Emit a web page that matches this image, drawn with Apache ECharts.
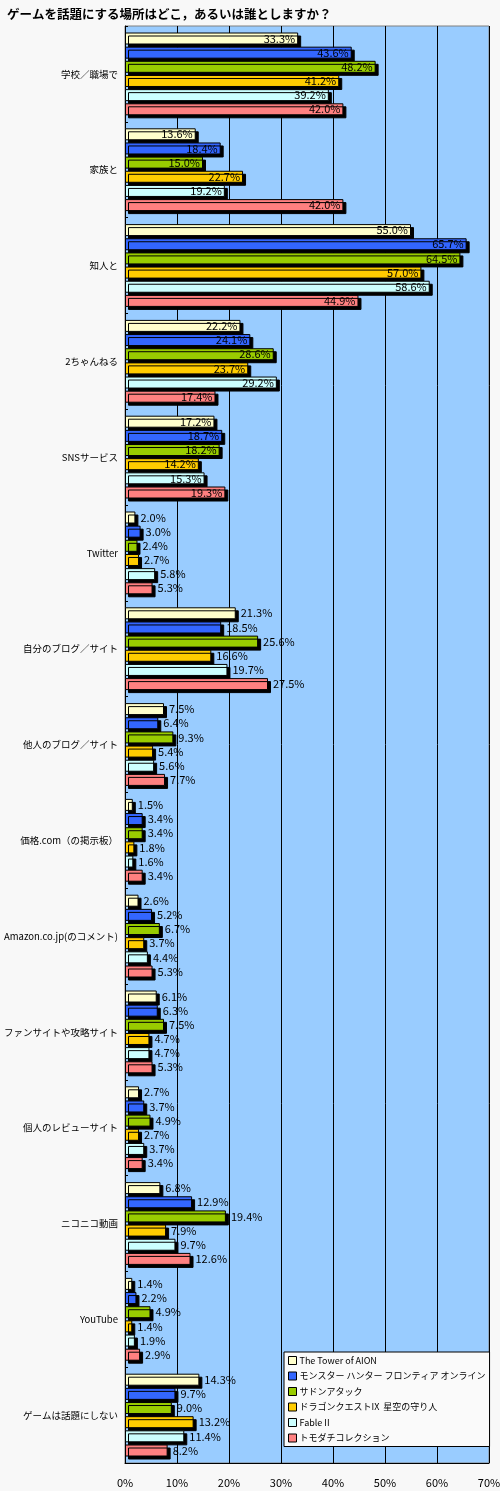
<!DOCTYPE html>
<html>
<head>
<meta charset="utf-8">
<script src="https://cdn.jsdelivr.net/npm/echarts@6/dist/echarts.min.js"></script>
<style>
html,body{margin:0;padding:0;background:#f8f8f8;}
#c{width:500px;height:1491px;}
</style>
</head>
<body>
<div id="c"></div>
<script>
const titleText = 'ゲームを話題にする場所はどこ，あるいは誰としますか？';
const categories = [
  '学校／職場で','家族と','知人と','2ちゃんねる','SNSサービス','Twitter',
  '自分のブログ／サイト','他人のブログ／サイト','価格.com（の掲示板）',
  'Amazon.co.jp(のコメント)','ファンサイトや攻略サイト','個人のレビューサイト',
  'ニコニコ動画','YouTube','ゲームは話題にしない'
];
const seriesNames = [
  'The Tower of AION',
  'モンスター ハンター フロンティア オンライン',
  'サドンアタック',
  'ドラゴンクエストIX  星空の守り人',
  'Fable II',
  'トモダチコレクション'
];
const aion      = [33.3,13.6,55.0,22.2,17.2,2.0,21.3,7.5,1.5,2.6,6.1,2.7,6.8,1.4,14.3];
const mhf       = [43.6,18.4,65.7,24.1,18.7,3.0,18.5,6.4,3.4,5.2,6.3,3.7,12.9,2.2,9.7];
const sudden    = [48.2,15.0,64.5,28.6,18.2,2.4,25.6,9.3,3.4,6.7,7.5,4.9,19.4,4.9,9.0];
const dq9       = [41.2,22.7,57.0,23.7,14.2,2.7,16.6,5.4,1.8,3.7,4.7,2.7,7.9,1.4,13.2];
const fable2    = [39.2,19.2,58.6,29.2,15.3,5.8,19.7,5.6,1.6,4.4,4.7,3.7,9.7,1.9,11.4];
const tomodachi = [42.0,42.0,44.9,17.4,19.3,5.3,27.5,7.7,3.4,5.3,5.3,3.4,12.6,2.9,8.2];
const xTicks = [0,10,20,30,40,50,60,70];

const allValues = [aion, mhf, sudden, dq9, fable2, tomodachi];
const colors = ['#ffffcc','#3366ff','#99cc00','#ffcc00','#ccffff','#ff8080'];
const insideCats = 5; // first categories have labels inside the bar end

const chart = echarts.init(document.getElementById('c'), null, {renderer:'canvas'});
const font = '"Noto Sans CJK JP","Noto Sans",sans-serif';

const series = allValues.map((vals, si) => ({
  name: seriesNames[si],
  type: 'bar',
  barWidth: 12,
  barGap: '18%',
  data: vals.map((v, ci) => ({
    value: v,
    label: ci < insideCats
      ? {position: 'insideRight', distance: 3}
      : {position: 'right', distance: 5}
  })),
  itemStyle: {
    color: colors[si],
    borderColor: '#000',
    borderWidth: 1,
    shadowColor: '#000',
    shadowOffsetX: 3,
    shadowOffsetY: 3,
    shadowBlur: 0
  },
  label: {
    show: true,
    color: '#000',
    fontSize: 11,
    fontFamily: font,
    formatter: p => p.value.toFixed(1) + '%'
  },
  emphasis: {disabled: true},
  animation: false
}));

chart.setOption({
  backgroundColor: '#f8f8f8',
  animation: false,
  title: {
    text: titleText,
    left: 2,
    top: 3,
    textStyle: {fontSize: 12.5, fontWeight: 'bold', color: '#000', fontFamily: font}
  },
  grid: {
    left: 125, right: 11, top: 26, bottom: 28,
    containLabel: false,
    outerBoundsMode: 'none',
    show: true,
    backgroundColor: '#99ccff',
    borderColor: '#808080',
    borderWidth: 1
  },
  legend: {
    orient: 'vertical',
    left: 284,
    top: 1352,
    width: 204,
    backgroundColor: '#fafafa',
    borderColor: '#000',
    borderWidth: 1,
    padding: [4, 4, 4, 4],
    itemWidth: 8,
    itemHeight: 8,
    itemGap: 6.5,
    icon: 'rect',
    itemStyle: {borderColor: '#000', borderWidth: 1, shadowBlur: 0, shadowOffsetX: 0, shadowOffsetY: 0, shadowColor: 'rgba(0,0,0,0)'},
    textStyle: {fontSize: 9, color: '#000', fontFamily: font, padding: [0,0,0,-2]},
    data: seriesNames
  },
  xAxis: {
    type: 'value',
    min: xTicks[0],
    max: xTicks[xTicks.length - 1],
    interval: 10,
    axisLine: {show: true, lineStyle: {color: '#000', width: 1}},
    axisTick: {show: false},
    splitLine: {show: true, lineStyle: {color: '#000', width: 1}},
    axisLabel: {color: '#000', fontSize: 11, fontFamily: font, margin: 14, formatter: '{value}%'}
  },
  yAxis: {
    type: 'category',
    inverse: true,
    data: categories,
    axisLine: {show: true, lineStyle: {color: '#000', width: 1}},
    axisTick: {show: true, inside: true, length: 3, lineStyle: {color: '#000'}},
    axisLabel: {color: '#000', fontSize: 9.5, fontFamily: font, margin: 7}
  },
  series: series
});
</script>
</body>
</html>
